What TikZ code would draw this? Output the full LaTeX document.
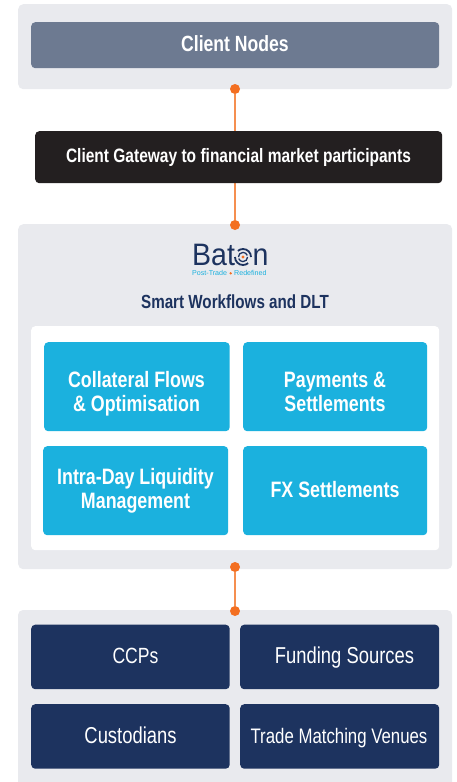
\documentclass[tikz,border=0pt]{standalone}
\usepackage{fontspec}
\setmainfont[FakeStretch=0.8]{Liberation Sans}
\newfontfamily\logofont[FakeStretch=0.92]{Liberation Sans}
\newfontfamily\tagfont{Liberation Sans}
\usetikzlibrary{positioning,calc}
\definecolor{panelgrey}{HTML}{E9EAEE}
\definecolor{slate}{HTML}{6D7A91}
\definecolor{ink}{HTML}{231F20}
\definecolor{navy}{HTML}{1D335F}
\definecolor{sky}{HTML}{1BB1DE}
\definecolor{dotor}{HTML}{F36F21}
\definecolor{lineor}{HTML}{F58F50}
\tikzset{
  x=1pt,y=-1pt,
  panel/.style={fill=panelgrey,draw=none,rounded corners=5pt},
  inner/.style={fill=white,draw=none,rounded corners=4pt},
  box/.style={draw=none,rounded corners=4pt},
  sizedtext/.style={font=\fontsize{#1}{24}\selectfont\bfseries,text=white,align=center,inner sep=0pt},
  plain/.style={font=\fontsize{#1}{24}\selectfont,text=white,inner sep=0pt,anchor=base},
  dotn/.style={circle,fill=dotor,draw=none,minimum size=10pt,inner sep=0pt},
  link/.style={draw=lineor,line width=1.5pt},
  logotext/.style={font=\logofont\fontsize{31}{31}\selectfont,text=navy,inner sep=0pt,anchor=base west},
  tagtext/.style={font=\tagfont\fontsize{7.1}{7}\selectfont,text=sky,inner sep=0pt,anchor=base west},
}
\newcommand{\pxbox}[6]{% name, style, x0, y0, x1, y1
  \node[#2,anchor=north west,minimum width=#5pt-#3pt,minimum height=#6pt-#4pt,inner sep=0pt] (#1) at (#3,#4) {};}
\begin{document}
\begin{tikzpicture}
\useasboundingbox (0,0) rectangle (457,782);
% panels
\pxbox{ptop}{panel}{18}{4}{452}{89}
\pxbox{pmid}{panel}{18}{224}{452}{569}
\path[panel] (18,610) rectangle (452,790);
% connector dots
\node[dotn] (d1) at (235,89) {};
\node[dotn] (d2) at (235,225) {};
\node[dotn] (d3) at (235,567) {};
\node[dotn] (d4) at (235,611) {};
\draw[link] (d1) -- (d2);
\draw[link] (d3) -- (d4);
% top
\pxbox{nodes}{box,fill=slate}{31}{22}{439}{68}
\node[sizedtext=22,anchor=base] (nodest) at (235,51.2) {Client Nodes};
\pxbox{gateway}{box,fill=ink}{35}{131}{442}{183}
\node[sizedtext=19.4,anchor=base] (gatet) at (238.5,162.3) {Client Gateway to financial market participants};
% logo
\node[logotext] (logoa) at (192,265) {Bat};
\node[logotext] (logob) at (252.5,265) {n};
\coordinate (spiral) at (243,257);
\draw[navy,line width=1.8pt] (spiral) ++(-8,0) arc[start angle=180,end angle=310,radius=8pt];
\draw[navy,line width=1.8pt] (spiral) ++(8,0) arc[start angle=0,end angle=130,radius=8pt];
\draw[navy,line width=1.3pt] (spiral) ++(-4.6,0) arc[start angle=180,end angle=20,radius=4.6pt];
\draw[navy,line width=1.3pt] (spiral) ++(4.6,0) arc[start angle=0,end angle=-160,radius=4.6pt];
\fill[dotor] (spiral) circle (1.6pt);
\node[tagtext] (tag1) at (192,275.5) {Post-Trade};
\node[circle,fill=dotor,minimum size=2.6pt,inner sep=0pt] (tagdot) at (230.7,273.3) {};
\node[tagtext] (tag2) at (234,275.5) {Redefined};
\node[sizedtext=19,text=navy,anchor=base] (smart) at (235,308.5) {Smart Workflows and DLT};
% white area + sky boxes
\pxbox{white}{inner}{31}{326}{439}{550}
\pxbox{s1}{box,fill=sky}{44}{342}{229.5}{431}
\pxbox{s2}{box,fill=sky}{243}{342}{427}{431}
\pxbox{s3}{box,fill=sky}{43}{446}{228}{535}
\pxbox{s4}{box,fill=sky}{243}{446}{427}{535}
\node[sizedtext=22.3] (s1t) at (136.5,393.5) {Collateral Flows\\\& Optimisation};
\node[sizedtext=22.3] (s2t) at (335,391.5) {Payments \&\\Settlements};
\node[sizedtext=22.3] (s3t) at (135.5,490.5) {Intra-Day Liquidity\\Management};
\node[sizedtext=22.3,anchor=base] (s4t) at (335,497) {FX Settlements};
% bottom boxes
\pxbox{b1}{box,fill=navy}{31}{624.5}{229.5}{689}
\pxbox{b2}{box,fill=navy}{240}{624.5}{439}{689}
\pxbox{b3}{box,fill=navy}{31}{704}{229.5}{768.5}
\pxbox{b4}{box,fill=navy}{240}{704}{439}{768.5}
\node[plain=22] (b1t) at (135.5,663) {CCPs};
\node[plain=23] (b2t) at (344.5,663) {Funding Sources};
\node[plain=23] (b3t) at (130.5,743) {Custodians};
\node[plain=21] (b4t) at (339,743) {Trade Matching Venues};
\end{tikzpicture}
\end{document}
